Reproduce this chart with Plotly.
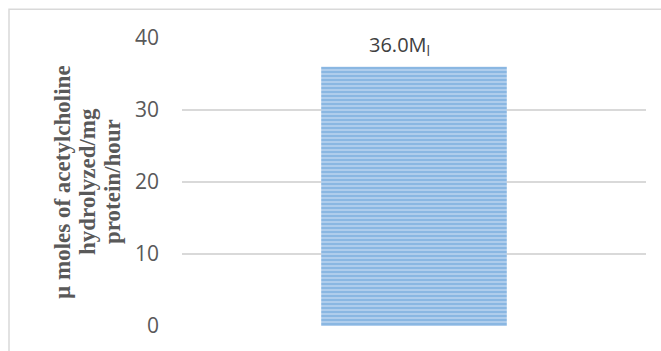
import plotly.graph_objects as go

categories = ["Sample"]
values = [36.0]
label_texts = ["36.0M<sub>l</sub>"]
y_ticks = [0, 10, 20, 30, 40]
y_title_lines = ["µ moles of acetylcholine", "hydrolyzed/mg", "protein/hour"]

W, H = 661, 351
L, R, T, B = 182, 15, 38, 23
pw, ph = W - L - R, H - T - B

fig = go.Figure()
fig.add_trace(go.Bar(
    x=categories, y=values,
    marker=dict(color="#B8D2EE", line=dict(width=0),
                pattern=dict(shape="-", fgcolor="#5B9BD5", size=4, solidity=0.6)),
    width=0.4,
    hoverinfo="skip",
))

for c, v, t in zip(categories, values, label_texts):
    fig.add_annotation(x=c, y=v, text=t, showarrow=False, yanchor="bottom",
                       yshift=5, xshift=-15,
                       font=dict(family="Open Sans, Liberation Sans, sans-serif", size=20, color="#404040"))

# y-axis title lines, as separate rotated annotations
xs_px = [62, 87, 112]
for line, xp in zip(y_title_lines, xs_px):
    fig.add_annotation(xref="paper", yref="paper", x=(xp - L) / pw, y=0.5,
                       text="<b>" + line + "</b>", textangle=-90, showarrow=False,
                       xanchor="center", yanchor="middle",
                       font=dict(family="Liberation Serif, Times New Roman, serif", size=23, color="#595959"))

# outer chart border
fig.add_shape(type="rect", xref="paper", yref="paper",
              x0=(9 - L) / pw, x1=(W + 5 - L) / pw,
              y0=-(B + 5) / ph, y1=(H - B - 9) / ph,
              line=dict(color="#D9D9D9", width=1.5), layer="below")

fig.update_layout(
    width=W, height=H,
    margin=dict(l=L, r=R, t=T, b=B),
    paper_bgcolor="white", plot_bgcolor="white",
    showlegend=False,
    bargap=0.6,
    xaxis=dict(showticklabels=False, showgrid=False, zeroline=False, showline=False, ticks=""),
    yaxis=dict(range=[0, 40], tickvals=y_ticks, showgrid=True, gridcolor="#D9D9D9", gridwidth=1.5,
               zeroline=False, showline=False, ticks="", ticklabelstandoff=22,
               tickfont=dict(family="Open Sans, Liberation Sans, sans-serif", size=21, color="#595959")),
)
fig.write_html("out.html")
